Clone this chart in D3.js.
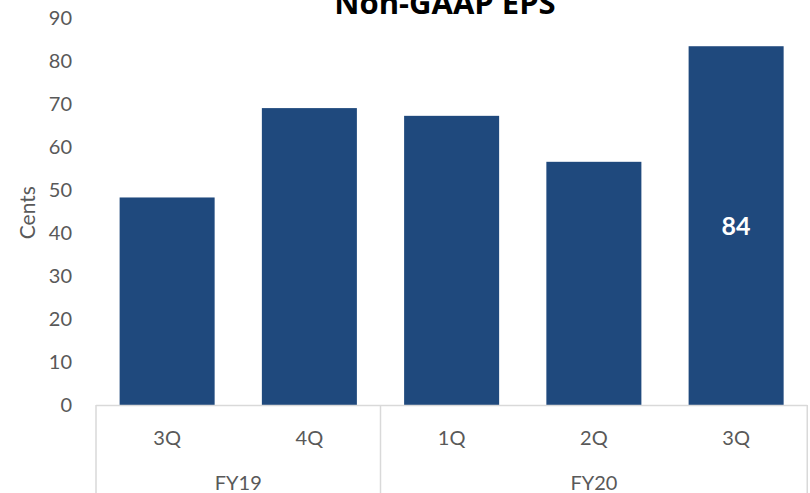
<!DOCTYPE html>
<html><head><meta charset="utf-8">
<script src="https://cdn.jsdelivr.net/npm/d3@7"></script>
<style>body{margin:0;background:#fff}svg{display:block}</style>
</head><body>
<svg id="c" width="810" height="493"></svg>
<script>
const quarters = ["3Q","4Q","1Q","2Q","3Q"];
const years = ["FY19","FY19","FY20","FY20","FY20"];
const yearGroups = ["FY19","FY20"];
const values = [48.3, 69.1, 67.3, 56.6, 83.5];
const labelShown = [false,false,false,false,true];
const yTicks = [0,10,20,30,40,50,60,70,80,90];
const title = "Non-GAAP EPS";
const yTitle = "Cents";

(function(){
const svg = d3.select("#c");
const font = "Lato, 'Open Sans', sans-serif";
const pLeft = 96, pRight = 807.25, pTop = 18.3, pBottom = 405;
const idx = d3.range(values.length);
const x = d3.scaleBand().domain(idx).range([pLeft,pRight]).paddingInner(0.332).paddingOuter(0.166);
const y = d3.scaleLinear().domain([0,90]).range([pBottom, pTop]);

svg.append("text").attr("x",445).attr("y",14).attr("text-anchor","middle")
  .attr("font-family","'Open Sans', sans-serif").attr("font-weight","bold").attr("font-size",31).attr("fill","#000").text(title);

const yAxis = d3.axisLeft(y).tickValues(yTicks).tickSize(0).tickPadding(24);
const gy = svg.append("g").attr("transform",`translate(${pLeft},0)`).call(yAxis);
gy.select(".domain").remove();
gy.selectAll("text").attr("font-family",font).attr("font-size",20).attr("fill","#595959");

svg.append("text").attr("transform",`translate(35,${(pTop+pBottom)/2+1}) rotate(-90)`).attr("text-anchor","middle")
  .attr("font-family",font).attr("font-size",21).attr("fill","#595959").text(yTitle);

svg.selectAll("rect.bar").data(idx).enter().append("rect").attr("class","bar")
  .attr("x",i=>x(i)).attr("width",x.bandwidth()).attr("y",i=>y(values[i])).attr("height",i=>y(0)-y(values[i]))
  .attr("fill","#1F497D");

svg.selectAll("text.lab").data(idx.filter(i=>labelShown[i])).enter().append("text").attr("class","lab")
  .attr("x",i=>x(i)+x.bandwidth()/2).attr("y",i=>(y(values[i])+y(0))/2 + 1).attr("dy","0.35em").attr("text-anchor","middle")
  .attr("font-family",font).attr("font-weight","bold").attr("font-size",25).attr("fill","#fff")
  .text(i=>d3.format(".0f")(values[i]));

const step = x.step();
const catAxis = d3.axisBottom(x).tickFormat(i=>quarters[i]).tickSize(0).tickPadding(0);
const gx = svg.append("g").attr("transform",`translate(0,${pBottom})`).call(catAxis);
gx.select(".domain").remove();
gx.selectAll("text").attr("y",33).attr("dy","0.35em").attr("font-family",font).attr("font-size",20).attr("fill","#595959");

const lineColor = "#d9d9d9";
svg.append("line").attr("x1",pLeft).attr("x2",pRight).attr("y1",pBottom+0.5).attr("y2",pBottom+0.5).attr("stroke",lineColor).attr("stroke-width",1.5);
const groupStart = yearGroups.map(g=>idx.find(i=>years[i]===g));
const groupEnd = yearGroups.map(g=>idx.filter(i=>years[i]===g).slice(-1)[0]);
const half = step*x.paddingInner()/2;
const divXs = [pLeft].concat(groupEnd.map(e=>x(e)-half+step));
divXs.forEach(dx=>{
  svg.append("line").attr("x1",dx).attr("x2",dx).attr("y1",pBottom).attr("y2",493).attr("stroke",lineColor).attr("stroke-width",1.5);
});
yearGroups.forEach((g,k)=>{
  const a = x(groupStart[k]) - half;
  const b = x(groupEnd[k]) - half + step;
  svg.append("text").attr("x",(a+b)/2).attr("y",483).attr("dy","0.35em").attr("text-anchor","middle")
    .attr("font-family",font).attr("font-size",20).attr("fill","#595959").text(g);
});
})();
</script>
</body></html>
